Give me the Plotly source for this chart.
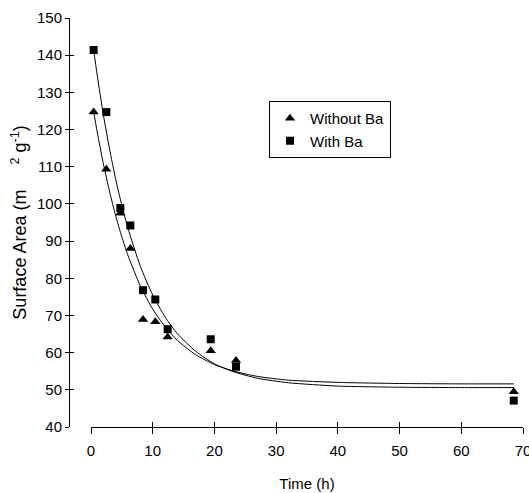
import plotly.graph_objects as go

# Measured points
time_without = [0.43, 2.48, 4.75, 6.37, 8.43, 10.42, 12.42, 19.4, 23.5, 68.5]
area_without = [124.7, 109.3, 97.5, 88.0, 68.9, 68.3, 64.2, 60.5, 57.9, 49.5]
time_with = [0.43, 2.48, 4.75, 6.37, 8.43, 10.42, 12.42, 19.4, 23.5, 68.5]
area_with = [141.4, 124.7, 98.9, 94.2, 76.8, 74.3, 66.3, 63.6, 56.2, 47.1]

# Fitted curves
fit_time = [0.35, 1, 2, 3, 4, 5, 6, 8, 10, 12, 14, 17, 20, 23, 27, 32, 40, 50, 60, 68.5]
fit_without = [125.6, 119.4, 110.8, 103.4, 96.8, 91.1, 86.1, 77.9, 71.7, 67.0, 63.3,
               59.4, 56.8, 55.1, 53.6, 52.6, 52.0, 51.7, 51.6, 51.6]
fit_with = [142.4, 134.7, 124.0, 114.8, 106.6, 99.6, 93.4, 83.2, 75.5, 69.6, 65.1,
            60.3, 57.0, 54.9, 53.1, 51.9, 51.0, 50.7, 50.6, 50.6]

x_ticks = [0, 10, 20, 30, 40, 50, 60, 70]
y_ticks = [40, 50, 60, 70, 80, 90, 100, 110, 120, 130, 140, 150]

FONT = "Liberation Sans, Arial, sans-serif"

fig = go.Figure()
fig.add_trace(go.Scatter(x=fit_time, y=fit_without, mode="lines", line=dict(color="black", width=1, shape="spline", smoothing=0.6),
                         showlegend=False, hoverinfo="skip"))
fig.add_trace(go.Scatter(x=fit_time, y=fit_with, mode="lines", line=dict(color="black", width=1, shape="spline", smoothing=0.6),
                         showlegend=False, hoverinfo="skip"))
fig.add_trace(go.Scatter(x=time_without, y=area_without, mode="markers", name="Without Ba",
                         marker=dict(symbol="triangle-up", size=9, color="black"), cliponaxis=False))
fig.add_trace(go.Scatter(x=time_with, y=area_with, mode="markers", name="With Ba",
                         marker=dict(symbol="square", size=8, color="black"), cliponaxis=False))
fig.add_trace(go.Scatter(x=[None], y=[None], xaxis="x2", yaxis="y2", showlegend=False, hoverinfo="skip"))

dom0 = 22 / 454
fig.update_layout(
    width=529, height=493,
    margin=dict(l=69, r=6, t=18, b=66, autoexpand=False),
    paper_bgcolor="white", plot_bgcolor="white",
    font=dict(family=FONT, size=15, color="black"),
    showlegend=True,
    legend=dict(x=(269 - 69) / 454, y=(427 - 158) / 409, xanchor="left", yanchor="bottom",
                bordercolor="black", borderwidth=1, bgcolor="white",
                font=dict(family=FONT, size=15), traceorder="normal"),
    xaxis=dict(domain=[dom0, 1], range=[0, 70], tickvals=x_ticks, ticks="outside", ticklen=6,
               tickcolor="black", showline=True, linecolor="black", linewidth=1, showgrid=False,
               zeroline=False, tickfont=dict(size=15), ticklabelstandoff=4, ticklabeloverflow="allow",
               title=dict(text="Time (h)", font=dict(size=15), standoff=20), anchor="y"),
    xaxis2=dict(domain=[dom0, 1], matches="x", overlaying="x", anchor="y", tickvals=x_ticks,
                ticks="inside", ticklen=5, tickcolor="black", showticklabels=False,
                showline=False, showgrid=False, zeroline=False),
    yaxis=dict(domain=[0, 1], range=[40, 150], tickvals=y_ticks, ticks="outside", ticklen=4,
               tickcolor="black", showline=True, linecolor="black", linewidth=1, showgrid=False,
               zeroline=False, anchor="free", position=0, tickfont=dict(size=15),
               title=dict(text="Surface Area (m     <sup>2</sup> g<sup>-1</sup>)\u00a0\u00a0\u00a0",
                          font=dict(size=18), standoff=4)),
    yaxis2=dict(domain=[0, 1], matches="y", overlaying="y", anchor="free", position=0, tickvals=y_ticks,
                ticks="inside", ticklen=4, tickcolor="black", showticklabels=False,
                showline=False, showgrid=False, zeroline=False),
)

fig.write_html("out.html")
